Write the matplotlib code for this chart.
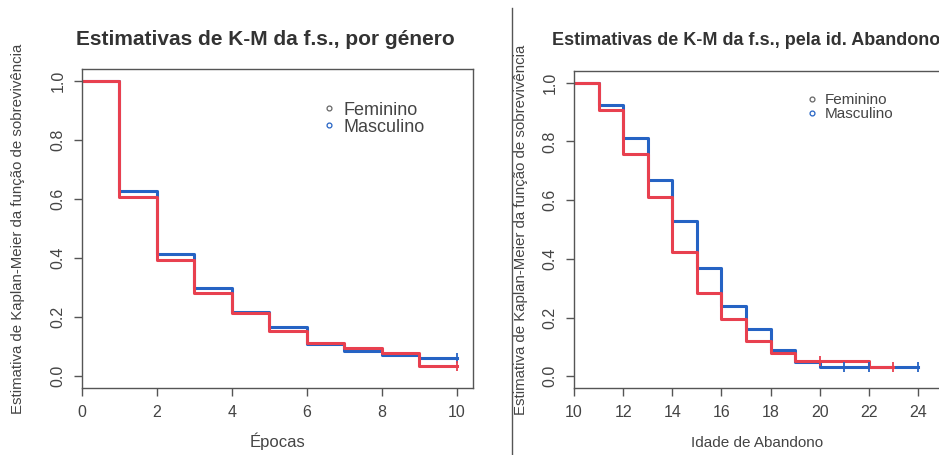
import numpy as np
import matplotlib
matplotlib.use("Agg")
import matplotlib.pyplot as plt
from matplotlib.lines import Line2D

plt.rcParams['font.family'] = ['Liberation Sans', 'DejaVu Sans']

# Estimativas K-M por género (épocas)
epocas = [0, 1, 2, 3, 4, 5, 6, 7, 8, 9, 10]
fem_ep = [1.0, 0.606, 0.394, 0.283, 0.215, 0.153, 0.114, 0.097, 0.080, 0.035, 0.035]
masc_ep = [1.0, 0.626, 0.414, 0.300, 0.217, 0.167, 0.108, 0.086, 0.071, 0.062, 0.062]
cens_fem_ep = [10]
cens_masc_ep = [10]

# Estimativas K-M pela idade de abandono
idade_fem = [10, 11, 12, 13, 14, 15, 16, 17, 18, 19, 22, 23]
fem_id = [1.0, 0.907, 0.758, 0.611, 0.425, 0.284, 0.195, 0.120, 0.080, 0.051, 0.032, 0.032]
idade_masc = [10, 11, 12, 13, 14, 15, 16, 17, 18, 19, 20, 24]
masc_id = [1.0, 0.924, 0.812, 0.670, 0.528, 0.368, 0.241, 0.162, 0.088, 0.049, 0.032, 0.032]
cens_fem_id = [20, 23]
cens_masc_id = [21, 22, 24]

labels = ['Feminino', 'Masculino']
azul = '#2563c4'
verm = '#e8404f'
cinza = '#444444'


def km_at(t, xs, ys):
    i = np.searchsorted(xs, t, side='right') - 1
    return ys[i]


def desenha(ax, xf, yf, xm, ym, cf, cm):
    ax.step(xm, ym, where='post', color=azul, lw=2.2)
    ax.step(xf, yf, where='post', color=verm, lw=2.2)
    ax.plot(cm, [km_at(t, xm, ym) for t in cm], ls='none', marker='|',
            ms=7, mew=1.3, color=azul)
    ax.plot(cf, [km_at(t, xf, yf) for t in cf], ls='none', marker='|',
            ms=7, mew=1.3, color=verm)
    for s in ax.spines.values():
        s.set_color('#555555')
        s.set_linewidth(1.0)
    ax.tick_params(direction='out', length=6, width=1, color='#555555',
                   labelcolor=cinza, labelsize=11.5, pad=6)
    ax.set_yticks([0.0, 0.2, 0.4, 0.6, 0.8, 1.0])
    ax.set_yticklabels(['0.0', '0.2', '0.4', '0.6', '0.8', '1.0'],
                       rotation=90, va='center')
    ax.set_ylim(-0.04, 1.04)


fig = plt.figure(figsize=(9.39, 4.55), dpi=100)

ax1 = fig.add_axes([82 / 939, 1 - 388 / 455, 391 / 939, 319 / 455])
desenha(ax1, epocas, fem_ep, epocas, masc_ep, cens_fem_ep, cens_masc_ep)
ax1.set_xlim(0, 10.43)
ax1.set_xticks([0, 2, 4, 6, 8, 10])
ax1.set_title('Estimativas de K-M da f.s., por género', fontsize=15,
              fontweight='bold', color='#333333', pad=17, x=0.47)
ax1.set_xlabel('Épocas', fontsize=12, color=cinza, labelpad=9)
ax1.set_ylabel('Estimativa de Kaplan-Meier da função de sobrevivência',
               fontsize=10.8, color=cinza, labelpad=18)

ax2 = fig.add_axes([574 / 939, 1 - 388 / 455, 367 / 939, 317 / 455])
desenha(ax2, idade_fem, fem_id, idade_masc, masc_id, cens_fem_id, cens_masc_id)
ax2.set_xlim(10, 24.94)
ax2.set_xticks([10, 12, 14, 16, 18, 20, 22, 24])
ax2.set_title('Estimativas de K-M da f.s., pela id. Abandono', fontsize=13,
              fontweight='bold', color='#333333', pad=19, loc='left', x=-0.06)
ax2.set_xlabel('Idade de Abandono', fontsize=11, color=cinza, labelpad=12)
ax2.set_ylabel('Estimativa de Kaplan-Meier da função de sobrevivência',
               fontsize=10.8, color=cinza, labelpad=10)

for ax, fs, pos in [(ax1, 13, (0.6, 0.92)), (ax2, 11, (0.62, 0.95))]:
    hs = [Line2D([], [], ls='none', marker='o', ms=3.5, mfc='none', mew=0.9,
                 color=c) for c in ['#666666', azul]]
    leg = ax.legend(hs, labels, loc='upper left', bbox_to_anchor=pos,
                    frameon=False, fontsize=fs, handlelength=0.6,
                    handletextpad=0.5, labelspacing=0.0, borderaxespad=0)
    for t in leg.get_texts():
        t.set_color(cinza)

fig.add_artist(Line2D([512 / 939, 512 / 939], [0, 1 - 8 / 455],
                      color='#555555', lw=1.0))

fig.savefig('out.png', dpi=100, facecolor='white')
